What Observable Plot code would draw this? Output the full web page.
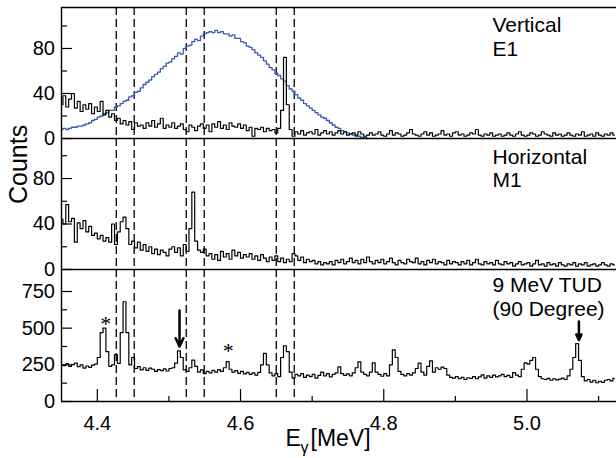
<!DOCTYPE html>
<html><head><meta charset="utf-8">
<script src="https://cdn.jsdelivr.net/npm/d3@7"></script>
<script src="https://cdn.jsdelivr.net/npm/@observablehq/plot@0.6"></script>
<style>
html,body{margin:0;padding:0;background:#fff;}
#chart{position:relative;width:616px;height:458px;overflow:hidden;background:#fff;}
#chart svg{position:absolute;left:0;}
</style></head><body><div id="chart"></div>
<script>
// Histogram bins: start energy (MeV) and bin width
const E0 = 4.35, binWidth = 0.004;
const xDomain = [4.35, 5.125];

// Panel 1: vertical polarisation, measured counts (black)
const verticalData = [
 30,38,28,35,40,27,33,24,30,26,
 31,22,28,24,33,21,25,19,22,16,
 18,13,16,12,15,8,14,11,12,9,
 14,11,16,10,13,18,9,12,10,14,
 9,11,13,8,6,12,10,7,11,13,
 9,12,6,13,10,15,9,12,8,14,
 11,10,13,9,12,7,10,2,9,8,
 10,6,9,7,8,5,9,25,72,30,
 8,2,6,4,7,3,5,6,4,8,
 3,5,7,4,6,3,5,7,4,6,
 3,4,5,3,6,4,2,3,5,3,
 4,6,3,2,4,7,3,5,4,2,
 3,5,8,4,3,2,4,6,3,5,
 2,3,4,7,3,4,2,5,6,3,
 4,2,3,5,4,8,3,2,4,3,
 5,2,3,4,2,3,5,3,2,4,
 6,3,2,3,5,4,2,3,6,4,
 3,2,5,3,4,2,3,5,3,2,
 4,3,6,2,3,4,2,5,3,2,
 4,3,5,3
];
// Panel 1: E1 response (blue)
const verticalE1 = [
 8,9,8,9,10,10,11,11,12,13,
 14,16,17,19,20,22,23,25,25,28,
 29,31,33,34,37,38,41,42,45,48,
 50,52,55,57,59,62,64,67,68,71,
 73,76,75,80,82,83,86,88,87,91,
 93,94,95,94,96,94,95,93,93,91,
 92,89,89,86,85,82,81,79,76,74,
 72,69,66,63,61,58,56,53,51,47,
 44,42,39,36,34,31,29,27,25,23,
 21,19,18,16,14,12,10,9,7,6,
 5,4,3,2,2,1,1,0
];
// Panel 2: horizontal polarisation
const horizontalData = [
 44,40,57,42,45,24,41,36,43,33,
 38,30,32,27,30,25,28,24,40,22,
 33,42,46,36,22,25,19,24,17,22,
 16,20,14,18,13,17,15,12,18,20,
 15,19,12,22,16,36,68,25,17,15,
 18,12,14,9,13,8,16,11,14,9,
 17,12,15,10,13,11,14,9,12,8,
 13,10,7,11,8,12,7,10,6,9,
 7,14,12,8,11,6,9,7,8,5,
 7,4,6,5,7,4,8,6,9,5,
 7,10,6,8,5,9,6,11,7,5,
 8,6,9,5,7,10,6,4,8,6,
 5,9,7,6,10,5,7,4,8,6,
 9,5,7,6,4,8,5,7,6,4,
 7,5,8,4,6,9,5,4,7,5,
 6,4,8,5,4,7,5,6,3,5,
 7,4,5,6,3,5,8,4,5,3,
 6,4,5,3,6,4,3,5,4,6,
 3,5,4,6,3,4,5,3,4,6,
 4,3,5,4
];
// Panel 3: 9 MeV TUD (90 degree)
const tudData = [
 250,245,258,240,252,262,238,250,228,242,
 232,248,255,300,470,500,340,240,250,320,
 260,470,680,470,250,300,225,238,215,230,
 212,228,220,205,218,210,222,208,225,230,
 262,345,300,215,205,230,282,240,200,215,
 190,205,195,212,200,218,205,230,272,220,
 200,210,192,205,188,198,185,195,180,198,
 250,328,250,195,175,190,170,300,380,340,
 200,160,185,175,190,165,180,170,185,160,
 178,200,175,190,168,185,195,236,190,178,
 188,175,195,230,270,200,185,175,200,264,
 200,185,172,190,175,250,352,300,205,185,
 175,190,180,195,225,261,200,180,240,277,
 200,230,220,235,225,180,165,160,170,155,
 165,150,162,158,170,155,168,182,160,175,
 165,180,168,175,185,170,178,165,197,180,
 170,220,264,255,280,300,220,170,155,150,
 158,145,155,148,152,160,150,175,220,300,
 395,280,170,140,150,132,145,128,138,130,
 145,150,140,158
];

const dashedLines = [4.4265, 4.4515, 4.5242, 4.5493, 4.6499, 4.675];

const xTicks = [4.4, 4.6, 4.8, 5.0];
const xMinor = [4.5, 4.7, 4.9, 5.1];
const yTicksTop = [0, 40, 80];
const yMinorTop = [20, 60, 100];
const yTicksTud = [0, 250, 500, 750];
const yMinorTud = [125, 375, 625];

const panelLabels = ["Vertical\nE1", "Horizontal\nM1", "9 MeV TUD\n(90 Degree)"];

const starX = [4.4119, 4.5828];
const starY = [529, 345];
const arrowX = [4.5148, 5.0725];
const arrowTop = [620, 545];
const arrowTip = [375, 420];

const font = "'Liberation Sans', Arial, Helvetica, sans-serif";
const chart = document.getElementById("chart");

const series = arr => arr.map((v, i) => ({x: E0 + binWidth * i, y: v}));

function frameMarks(yTop, withTop) {
  const m = [
    Plot.ruleX([xDomain[0]], {stroke: "black", strokeWidth: 1.4}),
    Plot.ruleY([0], {stroke: "black", strokeWidth: 1.6})
  ];
  if (withTop) m.push(Plot.ruleY([yTop], {stroke: "black", strokeWidth: 1.4}));
  return m;
}

function panel({top, height, marginTop, marginBottom, yDomain, yTicks, yMinor, marks, xAxis}) {
  const plotW = 616 - 61;
  const plotH = height - marginTop - marginBottom;
  const svg = Plot.plot({
    width: 616, height, marginLeft: 61, marginRight: 0, marginTop, marginBottom,
    style: {fontFamily: font, fontSize: "20px", color: "black", background: "transparent", overflow: "visible"},
    x: xAxis
      ? {domain: xDomain, ticks: xTicks, tickFormat: d3.format(".1f"), tickSize: 0, tickPadding: 14, label: null}
      : {domain: xDomain, axis: null},
    y: {domain: yDomain, ticks: yTicks, tickSize: 0, tickPadding: 6.5, label: null, tickFormat: d => String(d)},
    marks: [
      Plot.ruleX(dashedLines, {stroke: "black", strokeWidth: 1.3, strokeDasharray: "8,4"}),
      ...marks,
      ...frameMarks(yDomain[1], top === 0),
      Plot.tickY(yTicks, {y: d => d, stroke: "black", strokeWidth: 1.2, insetRight: plotW - 11}),
      Plot.tickY(yMinor, {y: d => d, stroke: "black", strokeWidth: 1.2, insetRight: plotW - 6}),
      ...(xAxis ? [
        Plot.tickX(xTicks, {x: d => d, stroke: "black", strokeWidth: 1.2, insetTop: plotH - 12}),
        Plot.tickX(xMinor, {x: d => d, stroke: "black", strokeWidth: 1.2, insetTop: plotH - 5})
      ] : [])
    ]
  });
  svg.style.top = top + "px";
  chart.appendChild(svg);
}

const labelText = (s, dy) => Plot.text([s], {text: d => d, frameAnchor: "top-left", dx: 431, dy, textAnchor: "start", lineAnchor: "top", lineHeight: 1.12, fontSize: 21, fill: "black"});

// Panel 1
panel({
  top: 0, height: 140, marginTop: 7, marginBottom: 2,
  yDomain: [0, 116.4], yTicks: yTicksTop, yMinor: yMinorTop,
  marks: [
    Plot.line(series(verticalE1), {x: "x", y: "y", curve: "step", stroke: "#3a5bb0", strokeWidth: 1.3}),
    Plot.line(series(verticalData), {x: "x", y: "y", curve: "step", stroke: "black", strokeWidth: 1.2}),
    labelText(panelLabels[0], 8.1)
  ]
});

// Panel 2
panel({
  top: 130, height: 141, marginTop: 8, marginBottom: 2,
  yDomain: [0, 115.2], yTicks: yTicksTop, yMinor: yMinorTop,
  marks: [
    Plot.line(series(horizontalData), {x: "x", y: "y", curve: "step", stroke: "black", strokeWidth: 1.2}),
    labelText(panelLabels[1], 8.6),
    Plot.text(["Counts"], {text: d => d, frameAnchor: "left", dx: -43, rotate: -90, fontSize: 25, fill: "black"})
  ]
});

// Panel 3
panel({
  top: 261, height: 197, marginTop: 8, marginBottom: 57,
  yDomain: [0, 900], yTicks: yTicksTud, yMinor: yMinorTud, xAxis: true,
  marks: [
    Plot.line(series(tudData), {x: "x", y: "y", curve: "step", stroke: "black", strokeWidth: 1.2}),
    labelText(panelLabels[2], 6.0),
    Plot.text(starX.map((x, i) => i), {x: i => starX[i], y: i => starY[i], text: () => "*", fontFamily: "'Liberation Serif', 'Times New Roman', serif", fontSize: 22, fill: "black"}),
    Plot.arrow(arrowX.map((x, i) => i), {x1: i => arrowX[i], x2: i => arrowX[i], y1: i => arrowTop[i], y2: i => arrowTip[i], stroke: "black", strokeWidth: 2.5, headLength: 5.5, headAngle: 50}),
    Plot.text(["E"], {text: d => d, frameAnchor: "bottom", dx: -53.5, dy: 28.2, textAnchor: "start", lineAnchor: "top", fontSize: 23, fill: "black"}),
    Plot.text(["γ"], {text: d => d, frameAnchor: "bottom", dx: -38.5, dy: 40.6, textAnchor: "start", lineAnchor: "top", fontSize: 16, fill: "black"}),
    Plot.text(["[MeV]"], {text: d => d, frameAnchor: "bottom", dx: -28.5, dy: 28.2, textAnchor: "start", lineAnchor: "top", fontSize: 23, fill: "black"})
  ]
});
</script></body></html>
